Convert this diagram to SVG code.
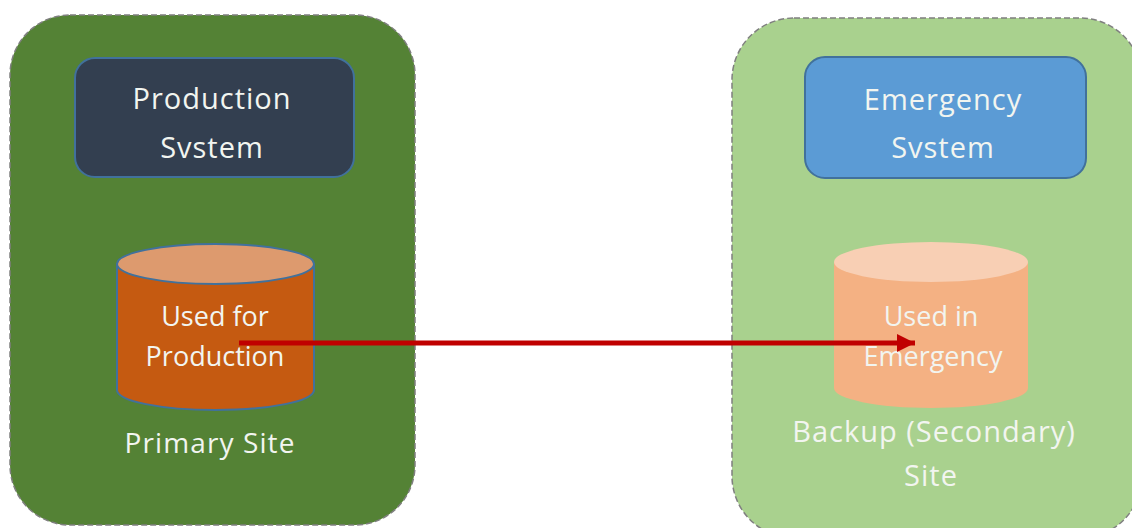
<svg xmlns="http://www.w3.org/2000/svg" width="1132" height="528" viewBox="0 0 1132 528">
<style>
text{font-family:"Open Sans","Noto Sans","Liberation Sans",sans-serif;fill:#f2f5f0;text-anchor:middle}
.t{font-size:29px;letter-spacing:1px}
.c{font-size:27px}
.p{font-size:28px;letter-spacing:1.1px}
.site{stroke:#7f7f7f;stroke-width:1.5;stroke-dasharray:6 3}
.box{stroke:#41719c;stroke-width:2}
</style>
<defs>
<marker id="arrow" markerUnits="userSpaceOnUse" markerWidth="20" markerHeight="20" refX="18" refY="10" orient="auto"><path d="M0 1L18 10L0 19Z" fill="#c00000"/></marker>
</defs>
<rect width="1132" height="528" fill="#fff"/>
<g id="primary-site">
<rect class="site" x="10" y="15" width="405" height="510" rx="60" fill="#548235"/>
<text class="p" x="210" y="453">Primary Site</text>
</g>
<g id="production-system">
<rect class="box" x="75" y="58" width="279" height="119" rx="20" fill="#333f50"/>
<text class="t" x="212" y="109">Production</text>
<text class="t" x="212" y="158">Svstem</text>
</g>
<g id="production-db">
<path class="box" d="M117 264V390A98.500 20 0 0 0 314 390V264Z" fill="#c55a11"/>
<ellipse class="box" cx="215.500" cy="264" rx="98.500" ry="20" fill="#dd9a6e"/>
<text class="c" x="215" y="326">Used for</text>
<text class="c" x="215" y="366">Production</text>
</g>
<g id="backup-site">
<rect class="site" x="732" y="18" width="410" height="520" rx="62" fill="#a9d18e"/>
<text class="t" x="934" y="442">Backup (Secondary)</text>
<text class="t" x="931" y="486">Site</text>
</g>
<g id="emergency-system">
<rect class="box" x="805" y="57" width="281" height="121" rx="20" fill="#5b9bd5"/>
<text class="t" x="943" y="110">Emergency</text>
<text class="t" x="943" y="158">Svstem</text>
</g>
<g id="emergency-db">
<path d="M834 262V388A97 20 0 0 0 1028 388V262Z" fill="#f4b183"/>
<ellipse cx="931" cy="262" rx="97" ry="20" fill="#f8cfb4"/>
<text class="c" x="931" y="326">Used in</text>
<text class="c" x="933" y="366">Emergency</text>
</g>
<g id="connectors">
<line x1="239" y1="343" x2="915" y2="343" stroke="#c00000" stroke-width="5" marker-end="url(#arrow)"/>
</g>
</svg>
